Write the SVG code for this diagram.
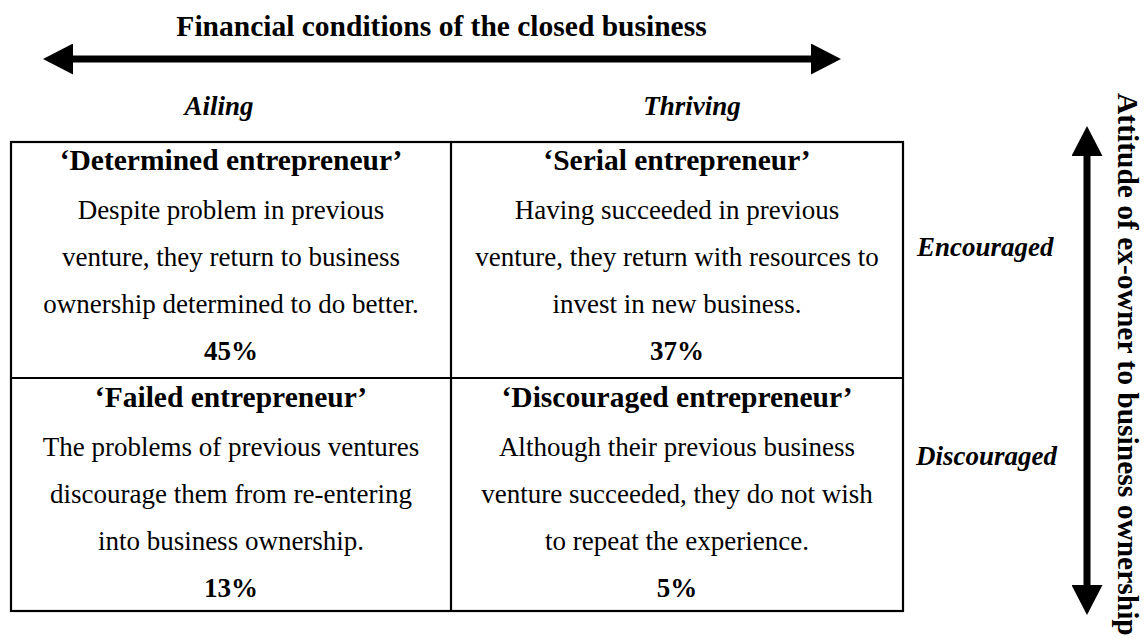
<svg xmlns="http://www.w3.org/2000/svg" width="1147" height="641" viewBox="0 0 1147 641">
  <defs>
    <style>
      text { font-family: "Liberation Serif", "Times New Roman", serif; fill: #000; }
      .head { font-size: 29.5px; font-weight: bold; }
      .axis { font-size: 27px; font-weight: bold; font-style: italic; }
      .ctitle { font-size: 29.5px; font-weight: bold; text-anchor: middle; }
      .body { font-size: 27px; text-anchor: middle; }
      .pct { font-size: 27px; font-weight: bold; text-anchor: middle; }
      .grid { fill: none; stroke: #000; stroke-width: 2.2; }
      .arrow { stroke: #000; stroke-width: 7; fill: none; marker-start: url(#head); marker-end: url(#head); }
    </style>
    <marker id="head" viewBox="0 0 30 31" markerWidth="30" markerHeight="31" markerUnits="userSpaceOnUse" refX="0" refY="15.5" orient="auto-start-reverse">
      <path d="M0,0 L30,15.5 L0,31 Z" fill="#000"/>
    </marker>
  </defs>

  <g id="connectors">
    <line class="arrow" x1="73" y1="59" x2="811" y2="59"/>
    <line class="arrow" x1="1087" y1="156" x2="1087" y2="585"/>
  </g>

  <g id="axis-labels">
    <text class="head" x="441.5" y="36" text-anchor="middle">Financial conditions of the closed business</text>
    <text class="axis" x="219" y="115" text-anchor="middle">Ailing</text>
    <text class="axis" x="692" y="115" text-anchor="middle">Thriving</text>
    <text class="axis" x="917" y="256">Encouraged</text>
    <text class="axis" x="916" y="465">Discouraged</text>
    <text class="head" transform="translate(1118,93) rotate(90)">Attitude of ex-owner to business ownership</text>
  </g>

  <g id="grid">
    <rect class="grid" x="11" y="142" width="892" height="469"/>
    <line class="grid" x1="451" y1="142" x2="451" y2="611"/>
    <line class="grid" x1="11" y1="378" x2="903" y2="378"/>
  </g>

  <g id="determined">
    <text class="ctitle" x="231" y="170">‘Determined entrepreneur’</text>
    <text class="body" x="231" y="219">Despite problem in previous</text>
    <text class="body" x="231" y="266">venture, they return to business</text>
    <text class="body" x="231" y="313">ownership determined to do better.</text>
    <text class="pct" x="231" y="360">45%</text>
  </g>

  <g id="serial">
    <text class="ctitle" x="677" y="170">‘Serial entrepreneur’</text>
    <text class="body" x="677" y="219">Having succeeded in previous</text>
    <text class="body" x="677" y="266">venture, they return with resources to</text>
    <text class="body" x="677" y="313">invest in new business.</text>
    <text class="pct" x="677" y="360">37%</text>
  </g>

  <g id="failed">
    <text class="ctitle" x="231" y="407">‘Failed entrepreneur’</text>
    <text class="body" x="231" y="456">The problems of previous ventures</text>
    <text class="body" x="231" y="503">discourage them from re-entering</text>
    <text class="body" x="231" y="550">into business ownership.</text>
    <text class="pct" x="231" y="597">13%</text>
  </g>

  <g id="discouraged">
    <text class="ctitle" x="677" y="407">‘Discouraged entrepreneur’</text>
    <text class="body" x="677" y="456">Although their previous business</text>
    <text class="body" x="677" y="503">venture succeeded, they do not wish</text>
    <text class="body" x="677" y="550">to repeat the experience.</text>
    <text class="pct" x="677" y="597">5%</text>
  </g>
</svg>
